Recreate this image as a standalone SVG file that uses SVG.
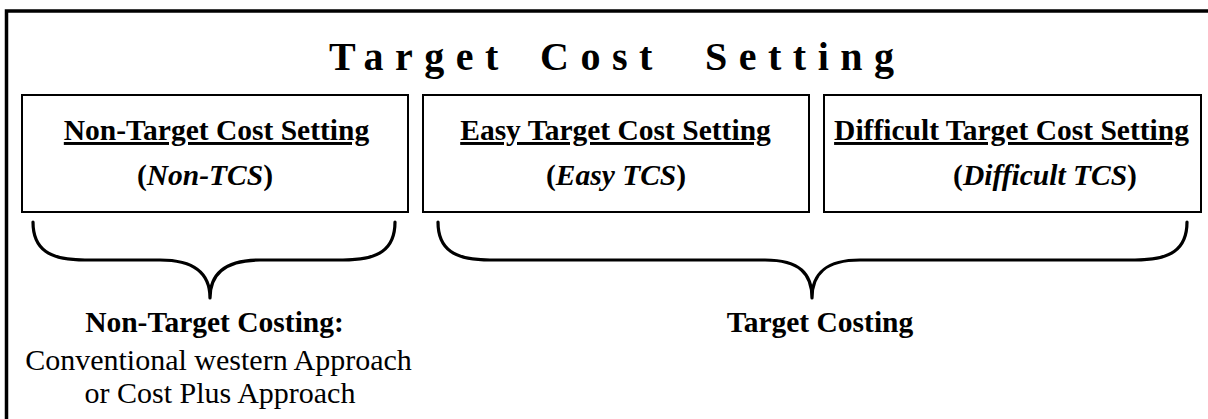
<svg xmlns="http://www.w3.org/2000/svg" width="1208" height="419" viewBox="0 0 1208 419">
  <style>
    .frame { fill: none; stroke: #000; stroke-width: 3.5; }
    .box { fill: #fff; stroke: #000; stroke-width: 2; }
    .brace { fill: none; stroke: #000; stroke-width: 3.2; stroke-linecap: round; stroke-linejoin: round; }
    text { font-family: "Liberation Serif", "Times New Roman", serif; fill: #000; }
    .title { font-size: 40px; font-weight: bold; letter-spacing: 11.5px; }
    .head { font-size: 29.5px; font-weight: bold; text-anchor: middle; text-decoration: underline; }
    .sub { font-size: 29.5px; font-weight: bold; text-anchor: middle; }
    .label { font-size: 29.5px; font-weight: bold; text-anchor: middle; }
    .note { font-size: 30px; text-anchor: middle; }
    .it { font-style: italic; }
  </style>

  <!-- outer frame: left and top edges -->
  <path class="frame" d="M 6.5 419 V 11 H 1208"/>

  <!-- heading -->
  <text class="title" y="70"><tspan x="329">Target</tspan><tspan x="540">Cost</tspan><tspan x="705">Setting</tspan></text>

  <g id="non-tcs">
    <rect class="box" x="22" y="95" width="386" height="117"/>
    <text class="head" x="216.5" y="140">Non-Target Cost Setting</text>
    <text class="sub" x="205" y="185">(<tspan class="it">Non-TCS</tspan>)</text>
  </g>

  <g id="easy-tcs">
    <rect class="box" x="423" y="95" width="386" height="117"/>
    <text class="head" x="615.5" y="140">Easy Target Cost Setting</text>
    <text class="sub" x="616" y="185">(<tspan class="it">Easy TCS</tspan>)</text>
  </g>

  <g id="difficult-tcs">
    <rect class="box" x="824" y="95" width="377" height="117"/>
    <text class="head" x="1011.5" y="140">Difficult Target Cost Setting</text>
    <text class="sub" x="1045" y="185">(<tspan class="it">Difficult TCS</tspan>)</text>
  </g>

  <g id="connectors">
    <path class="brace" d="M 33 222 C 33 250, 50 260, 85 260 L 160 260 C 195 260, 210 274, 210 298 C 210 274, 225 260, 260 260 L 343 260 C 378 260, 395 250, 395 222"/>
    <path class="brace" d="M 438 222 C 438 250, 455 260, 490 260 L 765 260 C 800 260, 812 274, 812 298 C 812 274, 825 260, 860 260 L 1135 260 C 1170 260, 1187 250, 1187 222"/>
  </g>

  <g id="non-target-costing">
    <text class="label" x="214.5" y="332">Non-Target Costing:</text>
    <text class="note" x="218.5" y="370">Conventional western Approach</text>
    <text class="note" x="220" y="403">or Cost Plus Approach</text>
  </g>

  <g id="target-costing">
    <text class="label" x="820" y="332">Target Costing</text>
  </g>
</svg>
